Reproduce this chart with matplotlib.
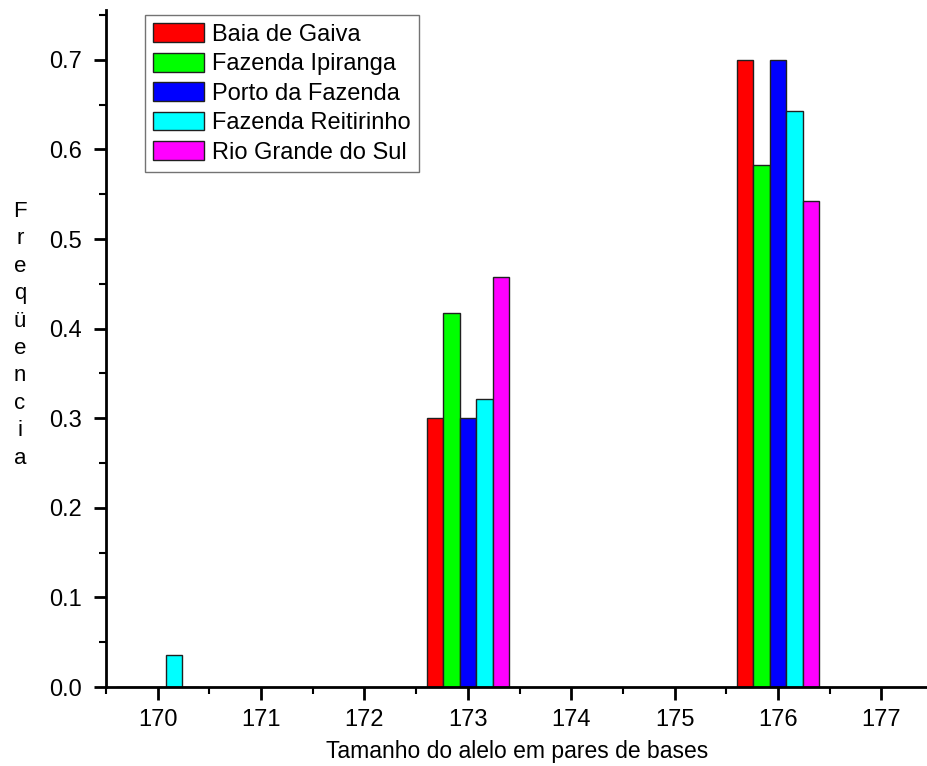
import matplotlib
matplotlib.use("Agg")
from matplotlib import pyplot as plt
import numpy as np

plt.rcParams['font.family'] = ['Liberation Sans', 'DejaVu Sans']

# allele sizes (bp) and frequency per population
alleles = [170, 173, 176]
populations = ["Baia de Gaiva", "Fazenda Ipiranga", "Porto da Fazenda",
               "Fazenda Reitirinho", "Rio Grande do Sul"]
baia = [0.0, 0.300, 0.700]
ipiranga = [0.0, 0.417, 0.583]
porto = [0.0, 0.300, 0.700]
reitirinho = [0.036, 0.321, 0.643]
rio_grande = [0.0, 0.458, 0.542]
colors = ["#ff0000", "#00ff00", "#0000ff", "#00ffff", "#ff00ff"]

fig = plt.figure(figsize=(9.28, 7.66), dpi=100)
ax = fig.add_axes([0.1142, 0.1031, 0.8858, 0.8838])

w = 0.16
x = np.array(alleles, dtype=float)
series = [baia, ipiranga, porto, reitirinho, rio_grande]
for i, (vals, c, name) in enumerate(zip(series, colors, populations)):
    ax.bar(x + (i - 2) * w, vals, width=w, color=c, edgecolor="#202020",
           linewidth=1, label=name)

ax.set_xlim(169.5, 177.45)
ax.set_ylim(0, 0.7556)
ax.set_xticks(range(170, 178))
ax.set_xticks(np.arange(169.5, 177.5, 1.0), minor=True)
ax.set_yticks(np.arange(0, 0.71, 0.1))
ax.set_yticks(np.arange(0.05, 0.76, 0.1), minor=True)
ax.yaxis.set_major_formatter(matplotlib.ticker.FormatStrFormatter('%.1f'))

for s in ["top", "right"]:
    ax.spines[s].set_visible(False)
for s in ["left", "bottom"]:
    ax.spines[s].set_linewidth(2)
ax.tick_params(which="major", length=9, width=2, labelsize=17)
ax.tick_params(axis="y", which="major", pad=8)
ax.tick_params(axis="x", which="major", pad=7)
ax.tick_params(which="minor", length=5, width=1.5)

ax.set_xlabel("Tamanho do alelo em pares de bases", fontsize=16.5, labelpad=6)
# y label written as a column of letters
fig.text(0.0216, 0.563, "\n".join("Freqüencia"), fontsize=16, ha="center",
         va="center", linespacing=1.40)

leg = ax.legend(loc="upper left", bbox_to_anchor=(0.0474, 0.9926), fontsize=17,
                frameon=True, fancybox=False, handlelength=2.17, handleheight=0.85,
                handletextpad=0.34, labelspacing=0.29, borderpad=0.35,
                borderaxespad=0)
leg.get_frame().set_edgecolor("#505050")
leg.get_frame().set_linewidth(1)

fig.savefig("out.png", dpi=100)
